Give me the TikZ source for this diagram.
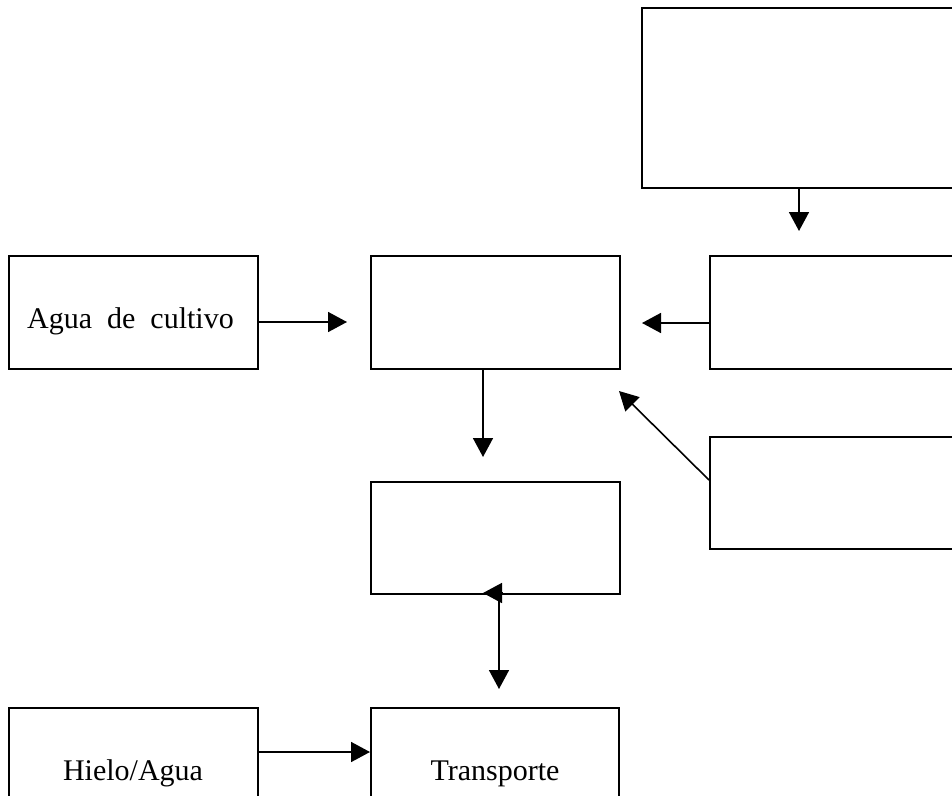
\documentclass[tikz,border=0pt]{standalone}
\usepackage{fontspec}
\setmainfont{Liberation Serif}
\usetikzlibrary{arrows.meta}
\begin{document}
\begin{tikzpicture}[x=1pt,y=-1pt,
  box/.style={draw=black,line width=1.7pt,fill=none,inner sep=0pt,anchor=north west},
  lbl/.style={anchor=base,inner sep=0pt,font=\fontsize{30}{36}\selectfont},
  arr/.style={line width=1.6pt,-{Triangle[length=19pt,width=20pt]}}]
\useasboundingbox (0,0) rectangle (952,795);
% boxes
\node[box,minimum width=351pt,minimum height=180pt] (tr) at (641,7) {};
\node[box,minimum width=249pt,minimum height=113pt] (agua) at (8,255) {};
\node[box,minimum width=249pt,minimum height=113pt] (cen) at (370,255) {};
\node[box,minimum width=260pt,minimum height=113pt] (rmid) at (709,255) {};
\node[box,minimum width=260pt,minimum height=112pt] (rlow) at (709,436) {};
\node[box,minimum width=249pt,minimum height=112pt] (mid) at (370,481) {};
\node[box,minimum width=249pt,minimum height=113pt] (hielo) at (8,707) {};
\node[box,minimum width=248pt,minimum height=113pt] (trans) at (370,707) {};
% texts
\node[lbl] (t1) at (130.5,328) {Agua\ \ de\ \ cultivo};
\node[lbl] (t2) at (133,780) {Hielo/Agua};
\node[lbl] (t3) at (495,780) {Transporte};
% connector ends
\coordinate (e1) at (347,322);
\coordinate (e2) at (799,231);
\coordinate (e3) at (642,323);
\coordinate (e4) at (619,391);
\coordinate (s4) at (709,480);
\coordinate (e5) at (483,457);
\coordinate (e6) at (499,689);
\coordinate (h6a) at (503,593);
\coordinate (h6b) at (483,593);
\coordinate (e7) at (370,752);
% connectors
\draw[arr] (agua.east |- e1) -- (e1);
\draw[arr] (tr.south -| e2) -- (e2);
\draw[arr] (rmid.west |- e3) -- (e3);
\draw[arr] (s4) -- (e4);
\draw[arr] (cen.south -| e5) -- (e5);
\draw[arr] (mid.south -| e6) -- (e6);
\draw[arr] (h6a) -- (h6b);
\draw[arr] (hielo.east |- e7) -- (trans.west |- e7);
\end{tikzpicture}
\end{document}
